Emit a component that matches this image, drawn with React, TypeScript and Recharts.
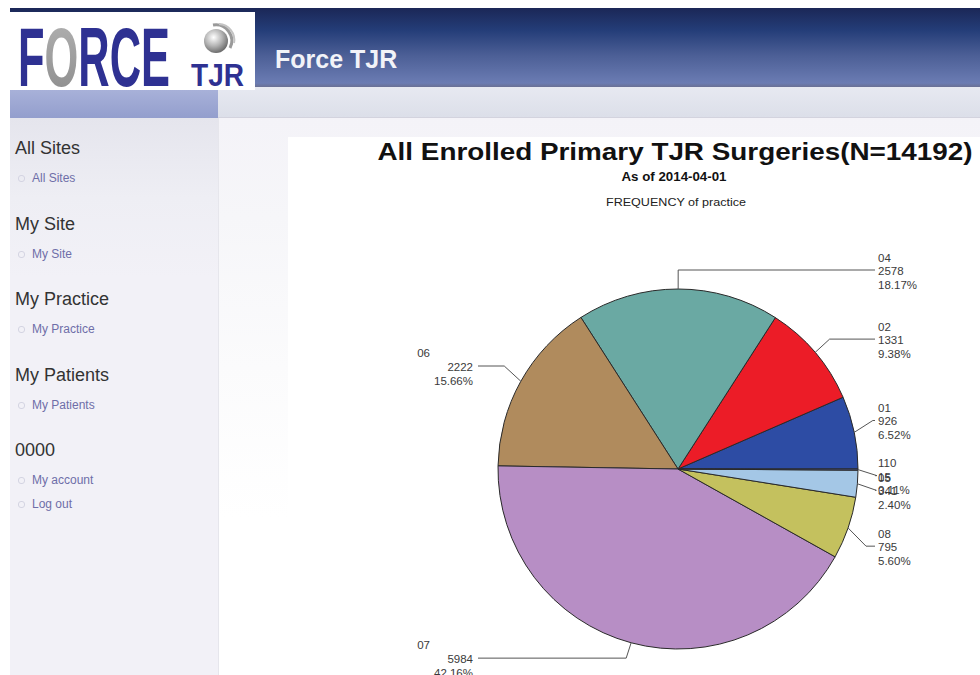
import React from 'react';
import { PieChart, Pie, Cell } from 'recharts';

// practice codes, counted surgeries and slice fills, in drawing order (counter-clockwise from 3 o'clock)
const practices = ['01', '02', '04', '06', '07', '08', '05', '110'];
const surgeries = [926, 1331, 2578, 2222, 5984, 795, 341, 15];
const sliceColors = ['#2d4ca4', '#ec1c27', '#6aa9a3', '#b08b5d', '#b78ec5', '#c4c15e', '#a4c7e6', '#5a64a8'];

const navHeadings = ['All Sites', 'My Site', 'My Practice', 'My Patients', '0000'];
const navLinks = [['All Sites'], ['My Site'], ['My Practice'], ['My Patients'], ['My account', 'Log out']];

const total = surgeries.reduce((s, v) => s + v, 0);
const chartData = practices.map((name, i) => ({ name, value: surgeries[i] }));

const labelFont = '"Liberation Sans", Arial, sans-serif';

// vertical shove of crowded labels (by slice index), the way the original report spread them out
const labelShift = [-8, -1, 0, -6, -3, 12, 5, 6];

const renderLabel = (props: any) => {
  const { cx, cy, midAngle, outerRadius, index } = props;
  const rad = Math.PI / 180;
  const cos = Math.cos(-midAngle * rad);
  const sin = Math.sin(-midAngle * rad);
  const sx = cx + outerRadius * cos;
  const sy = cy + outerRadius * sin;
  const ex = cx + (outerRadius + 19) * cos;
  const ey = cy + (outerRadius + 19) * sin + labelShift[index];
  const right = cos >= 0;
  const colX = right ? cx + outerRadius + 17 : cx - outerRadius - 20;
  const value = surgeries[index];
  const pct = ((value / total) * 100).toFixed(2) + '%';
  const common = { fontSize: 11.5, fontFamily: labelFont, fill: '#3a3a3a', dominantBaseline: 'central' as const };
  return (
    <g key={`lbl-${index}`}>
      <path d={`M${sx},${sy}L${ex},${ey}L${colX},${ey}`} stroke="#555" strokeWidth={1} fill="none" />
      {right ? (
        <>
          <text x={colX + 3} y={ey - 12.5} textAnchor="start" {...common}>{practices[index]}</text>
          <text x={colX + 3} y={ey + 1} textAnchor="start" {...common}>{value}</text>
          <text x={colX + 3} y={ey + 14.5} textAnchor="start" {...common}>{pct}</text>
        </>
      ) : (
        <>
          <text x={colX - 48} y={ey - 13} textAnchor="end" {...common}>{practices[index]}</text>
          <text x={colX - 5} y={ey + 1} textAnchor="end" {...common}>{value}</text>
          <text x={colX - 5} y={ey + 15} textAnchor="end" {...common}>{pct}</text>
        </>
      )}
    </g>
  );
};

const Logo = () => (
  <svg width={245} height={92} style={{ position: 'absolute', left: 10, top: 0 }}>
    <defs>
      <radialGradient id="ball" cx="40%" cy="35%" r="65%">
        <stop offset="0%" stopColor="#ffffff" />
        <stop offset="55%" stopColor="#b5b5b5" />
        <stop offset="100%" stopColor="#6e6e6e" />
      </radialGradient>
      <linearGradient id="ograd" x1="0" y1="0" x2="0" y2="1">
        <stop offset="0%" stopColor="#b4b4b4" />
        <stop offset="100%" stopColor="#8a8a8a" />
      </linearGradient>
    </defs>
    <rect y={12} width={245} height={78} fill="#ffffff" />
    <text x={8} y={86} fontSize={84} fontWeight="bold" fontFamily={labelFont} textLength={152} lengthAdjust="spacingAndGlyphs" fill="#2e3192">
      F<tspan fill="url(#ograd)">O</tspan>RCE
    </text>
    <text x={181} y={86} fontSize={31} fontWeight="bold" fontFamily={labelFont} textLength={53} lengthAdjust="spacingAndGlyphs" fill="#2e3192">
      TJR
    </text>
    <circle cx={206} cy={41} r={12} fill="url(#ball)" />
    <path d="M203,25 A16,16 0 0 1 220,48" stroke="#9a9a9a" strokeWidth={3} fill="none" />
    <path d="M209,24 A16,16 0 0 1 224,43" stroke="#c4c4c4" strokeWidth={2} fill="none" />
  </svg>
);

export default function App() {
  let y = 148;
  const navRows: React.ReactNode[] = [];
  navHeadings.forEach((h, i) => {
    navRows.push(
      <div key={`h${i}`} style={{ position: 'absolute', left: 5, top: y - 11, fontSize: 18, color: '#333', lineHeight: '22px' }}>{h}</div>
    );
    let ly = y + 30;
    navLinks[i].forEach((l, j) => {
      navRows.push(
        <div key={`l${i}-${j}`} style={{ position: 'absolute', left: 22, top: ly - 8, fontSize: 12, color: '#6e6ea8', lineHeight: '16px' }}>{l}</div>,
        <div key={`b${i}-${j}`} style={{ position: 'absolute', left: 8, top: ly - 3, width: 5, height: 5, borderRadius: 3, border: '1px solid #d4d4e2' }} />
      );
      ly += 24;
    });
    y += 75.5;
  });

  return (
    <div style={{ position: 'absolute', left: 0, top: 0, width: 980, height: 675, overflow: 'hidden', background: '#ffffff', fontFamily: labelFont }}>
      <style>{'body{margin:0}'}</style>
      {/* header band */}
      <div style={{ position: 'absolute', left: 10, top: 8, width: 970, height: 79, background: 'linear-gradient(#1b2757 0%, #243d78 28%, #4c5f96 60%, #6b7cb3 95%, #6a7094 100%)' }} />
      <div style={{ position: 'absolute', left: 275, top: 44, fontSize: 25, fontWeight: 'bold', color: '#f2f3f8', lineHeight: '30px' }}>Force TJR</div>
      {/* second band */}
      <div style={{ position: 'absolute', left: 10, top: 87, width: 970, height: 30, background: 'linear-gradient(#e7e9f1, #dcdfe9)', borderBottom: '1px solid #d3d3de' }} />
      <div style={{ position: 'absolute', left: 10, top: 87, width: 208, height: 31, background: 'linear-gradient(#aab3da, #939ecd)' }} />
      <Logo />
      {/* sidebar */}
      <div style={{ position: 'absolute', left: 10, top: 118, width: 208, height: 557, background: 'linear-gradient(#e5e5ed 0px, #eeeef4 80px, #f2f1f7 160px, #f2f1f7 100%)', borderRight: '1px solid #e6e6ec' }}>
        <div style={{ position: 'relative', top: -118 }}>{navRows}</div>
      </div>
      {/* main area */}
      <div style={{ position: 'absolute', left: 219, top: 118, width: 761, height: 557, background: 'linear-gradient(#f4f3f8 0px, #f6f6f9 100px, #fbfbfc 250px, #ffffff 400px)' }} />
      <div style={{ position: 'absolute', left: 288, top: 137, width: 692, height: 538, background: '#ffffff' }}>
        <svg width={692} height={80} style={{ position: 'absolute', left: 0, top: 0 }}>
          <text x={387} y={23} textAnchor="middle" fontSize={24} fontWeight="bold" fontFamily={labelFont} fill="#111" textLength={595} lengthAdjust="spacingAndGlyphs">
            {`All Enrolled Primary TJR Surgeries(N=${total})`}
          </text>
          <text x={386} y={44} textAnchor="middle" fontSize={12.5} fontWeight="bold" fontFamily={'"Liberation Sans Narrow", ' + labelFont} fill="#111" textLength={105} lengthAdjust="spacingAndGlyphs">
            As of 2014-04-01
          </text>
          <text x={388} y={69} textAnchor="middle" fontSize={11} fontFamily={'"Liberation Sans Narrow", ' + labelFont} fill="#222" textLength={140} lengthAdjust="spacingAndGlyphs">
            FREQUENCY of practice
          </text>
        </svg>
        <div style={{ position: 'absolute', left: 0, top: 0 }}>
          <PieChart width={692} height={538} margin={{ top: 0, right: 0, bottom: 0, left: 0 }}>
            <Pie
              data={chartData}
              dataKey="value"
              nameKey="name"
              cx={390}
              cy={332}
              outerRadius={180}
              startAngle={0}
              endAngle={360}
              stroke="#2a2a2a"
              strokeWidth={1}
              label={renderLabel}
              labelLine={false}
              isAnimationActive={false}
            >
              {chartData.map((d, i) => (
                <Cell key={`cell-${d.name}`} fill={sliceColors[i]} />
              ))}
            </Pie>
          </PieChart>
        </div>
      </div>
    </div>
  );
}
